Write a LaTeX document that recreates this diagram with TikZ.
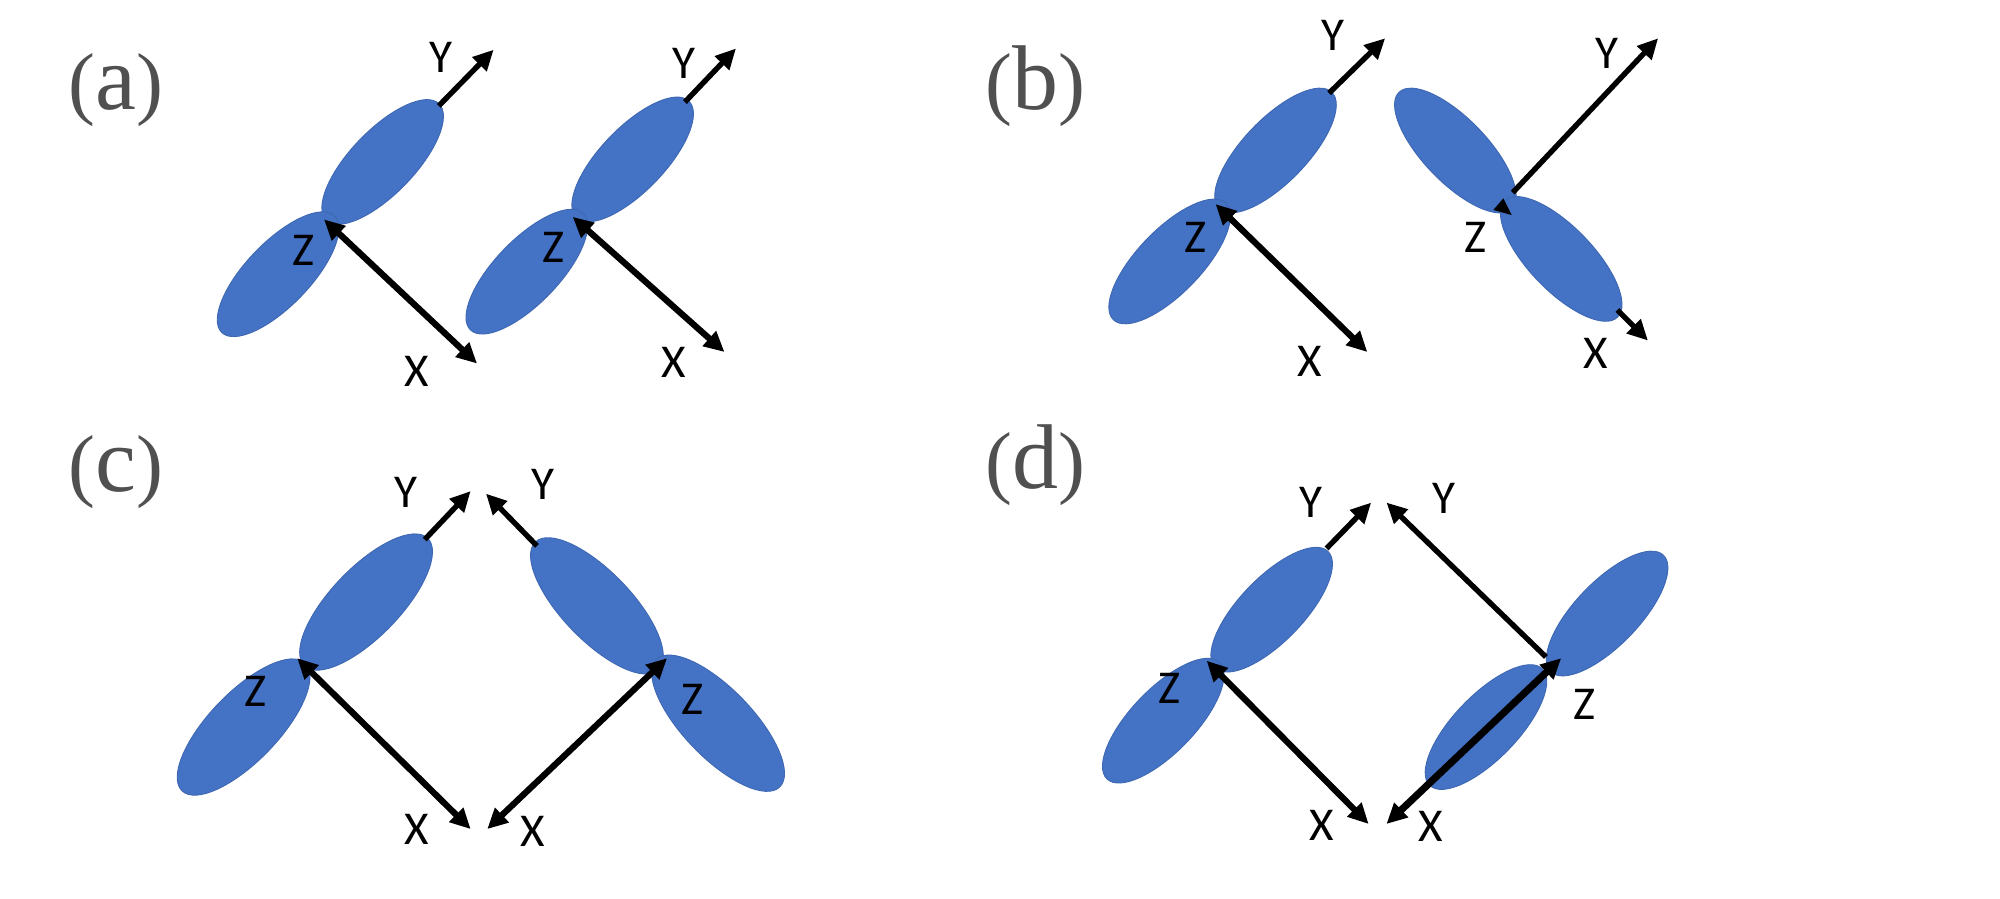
\documentclass[tikz,border=0pt]{standalone}
\usepackage{fontspec}
\setmainfont{Liberation Serif}
\newfontfamily\axisfont{Carlito}
\usetikzlibrary{shapes.geometric,arrows.meta}
\definecolor{lobe}{HTML}{4472C4}
\definecolor{lobeedge}{HTML}{3F68B3}
\definecolor{panelgrey}{HTML}{505050}
\newcommand{\paneltext}[1]{{\fontsize{18}{18}\selectfont(}{\fontsize{20.5}{20.5}\selectfont #1}{\fontsize{18}{18}\selectfont)}}
\tikzset{
  lobeA/.style={ellipse,fill=lobe,draw=lobeedge,line width=0.2pt,inner sep=0pt,minimum width=1.27cm,minimum height=0.50cm,rotate=#1},
  lobeB/.style={ellipse,fill=lobe,draw=lobeedge,line width=0.2pt,inner sep=0pt,minimum width=1.39cm,minimum height=0.54cm,rotate=#1},
  tipf/.tip={Triangle[length=1.6mm,width=1.5mm]},
  axis/.style={line width=1.2pt,-tipf},
  axisb/.style={line width=1.4pt,tipf-tipf},
  lab/.style={font=\axisfont\fontsize{10.5}{10.5}\selectfont,text=black,inner sep=0pt},
  panel/.style={text=panelgrey,inner sep=0pt,anchor=base}
}
\begin{document}
\begin{tikzpicture}[x=0.01cm,y=-0.01cm]
\useasboundingbox (0,0) rectangle (1568,704.8);
% panel labels
\node[panel] (pa) at (91,86) {\paneltext{a}};
\node[panel] (pb) at (812,86) {\paneltext{b}};
\node[panel] (pc) at (91,385) {\paneltext{c}};
\node[panel] (pd) at (812,383) {\paneltext{d}};
% (a)
\node[lobeA=46] (a1u) at (300,127) {};
\node[lobeA=46] (a1l) at (218,215) {};
\node[lobeA=46] (a2u) at (496,125) {};
\node[lobeA=46] (a2l) at (413,213) {};
\coordinate (a1o) at (254,172); \coordinate (a1y0) at (344,83); \coordinate (a1y) at (387,39); \coordinate (a1x) at (374,285);
\coordinate (a2o) at (449,170); \coordinate (a2y0) at (537,80); \coordinate (a2y) at (577,38); \coordinate (a2x) at (568,276);
\draw[axis] (a1y0) -- (a1y);
\draw[axisb] (a1o) -- (a1x);
\draw[axis] (a2y0) -- (a2y);
\draw[axisb] (a2o) -- (a2x);
\node[lab] (a1Y) at (346,45) {Y}; \node[lab] (a1Z) at (238,196) {Z}; \node[lab] (a1X) at (327,291) {X};
\node[lab] (a2Y) at (536,50) {Y}; \node[lab] (a2Z) at (434,194) {Z}; \node[lab] (a2X) at (528,284) {X};
% (b)
\node[lobeA=46] (b1u) at (1000,118) {};
\node[lobeA=46] (b1l) at (917,205) {};
\node[lobeA=-46] (b2u) at (1141,118) {};
\node[lobeA=-46] (b2l) at (1224,203) {};
\coordinate (b1o) at (953,160); \coordinate (b1y0) at (1042,73); \coordinate (b1y) at (1086,30); \coordinate (b1x) at (1072,276);
\coordinate (b2o) at (1186,151); \coordinate (b2y) at (1300,30); \coordinate (b2x0) at (1268,243); \coordinate (b2x) at (1292,267);
\coordinate (b2a) at (1178.6,155.5); \coordinate (b2b) at (1170.8,164.6); \coordinate (b2c) at (1185.2,168.6);
\draw[axis] (b1y0) -- (b1y);
\draw[axisb] (b1o) -- (b1x);
\draw[axis] (b2o) -- (b2y);
\draw[axis] (b2x0) -- (b2x);
\fill[black] (b2a) -- (b2b) -- (b2c) -- cycle;
\node[lab] (b1Y) at (1045,28) {Y}; \node[lab] (b1Z) at (937,186) {Z}; \node[lab] (b1X) at (1027,283) {X};
\node[lab] (b2Y) at (1260,42) {Y}; \node[lab] (b2Z) at (1157,186) {Z}; \node[lab] (b2X) at (1251,277) {X};
% (c)
\node[lobeB=46] (c1u) at (287,472) {};
\node[lobeB=46] (c1l) at (191,570) {};
\node[lobeB=-46] (c2u) at (468,475) {};
\node[lobeB=-46] (c2l) at (563,567) {};
\coordinate (c1o) at (233,516); \coordinate (c1y0) at (333,423); \coordinate (c1y) at (369,385); \coordinate (c1x) at (369,650);
\coordinate (c2o) at (523,516); \coordinate (c2y0) at (421,428); \coordinate (c2y) at (381,387); \coordinate (c2x) at (382,650);
\draw[axis] (c1y0) -- (c1y);
\draw[axisb] (c1o) -- (c1x);
\draw[axis] (c2y0) -- (c2y);
\draw[axisb] (c2o) -- (c2x);
\node[lab] (c1Y) at (318,386) {Y}; \node[lab] (c1Z) at (200,542) {Z}; \node[lab] (c1X) at (327,650) {X};
\node[lab] (c2Y) at (426,380) {Y}; \node[lab] (c2Z) at (543,548) {Z}; \node[lab] (c2X) at (418,652) {X};
% (d)
\node[lobeA=46] (d1u) at (997,478) {};
\node[lobeA=46] (d1l) at (912,565) {};
\node[lobeA=46] (d2u) at (1260,481) {};
\node[lobeA=46] (d2l) at (1165,570) {};
\coordinate (d1o) at (946,518); \coordinate (d1y0) at (1040,430); \coordinate (d1y) at (1075,394); \coordinate (d1x) at (1073,646);
\coordinate (d2o) at (1224,516); \coordinate (d2y0) at (1212,515); \coordinate (d2y) at (1087,394); \coordinate (d2x) at (1087,646);
\draw[axis] (d1y0) -- (d1y);
\draw[axisb] (d1o) -- (d1x);
\draw[axis] (d2y0) -- (d2y);
\draw[axisb,line width=1.6pt] (d2o) -- (d2x);
\node[lab] (d1Y) at (1028,394) {Y}; \node[lab] (d1Z) at (917,540) {Z}; \node[lab] (d1X) at (1036,647) {X};
\node[lab] (d2Y) at (1132,391) {Y}; \node[lab] (d2Z) at (1242,552) {Z}; \node[lab] (d2X) at (1122,648) {X};
\end{tikzpicture}
\end{document}
